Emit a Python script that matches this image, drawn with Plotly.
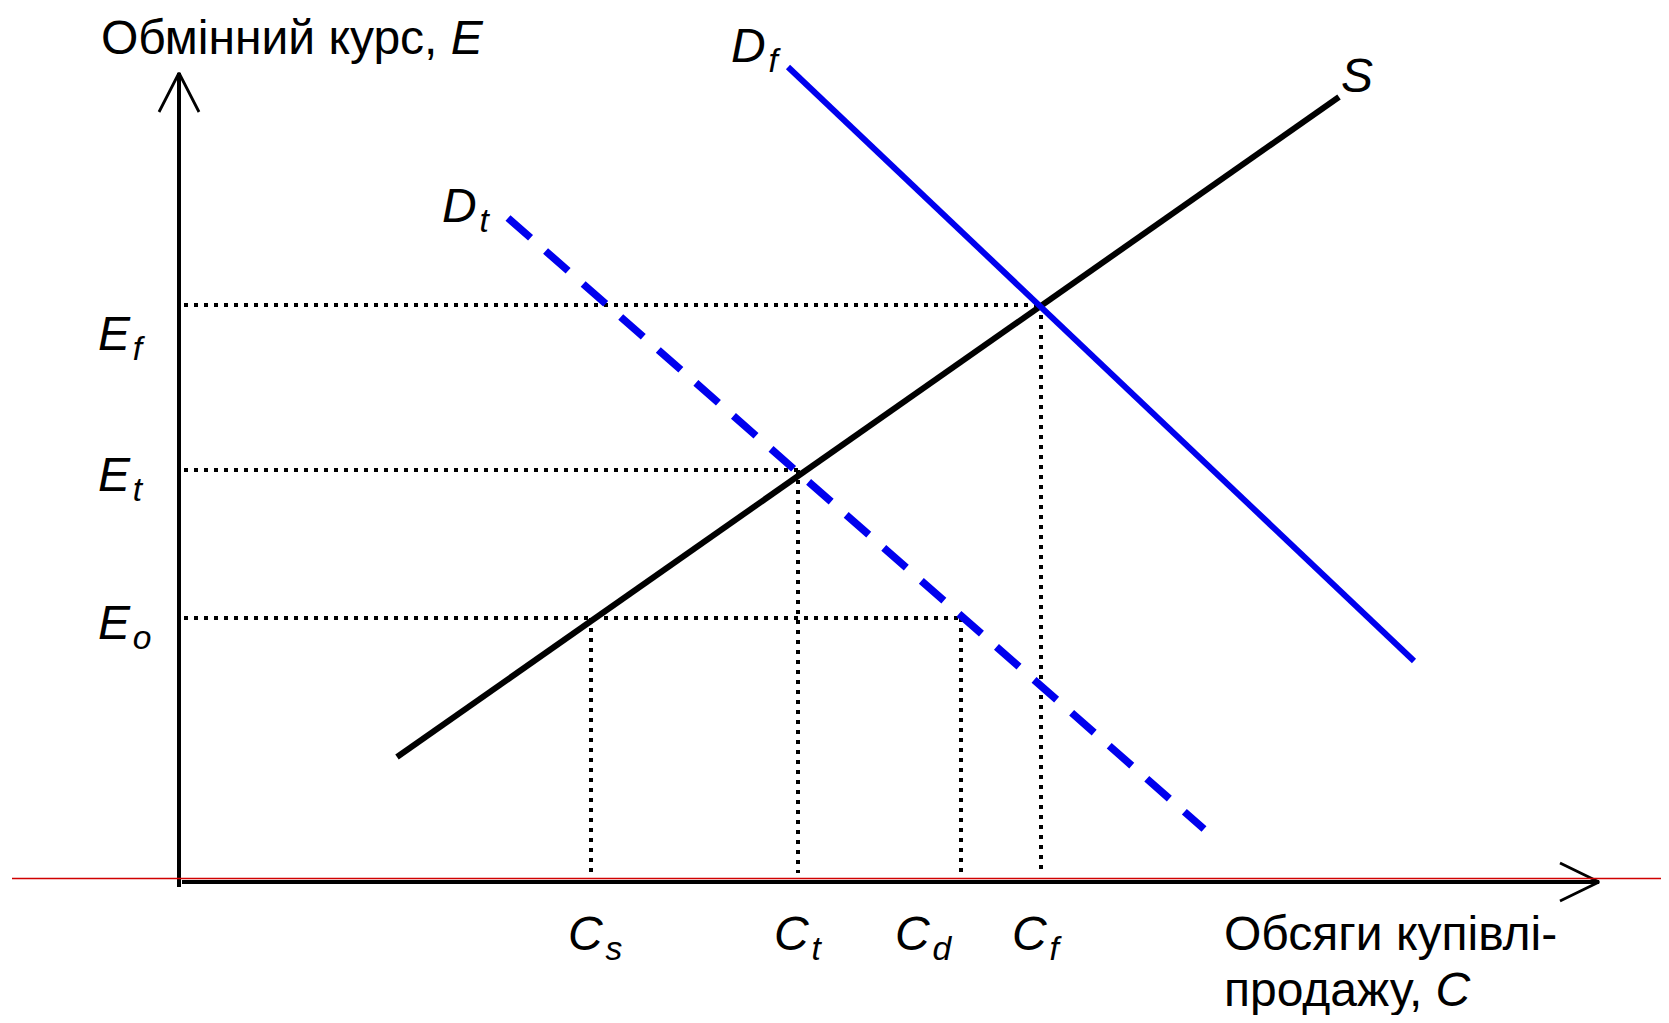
import plotly.graph_objects as go

# ---------------- data (chart units) ----------------
C_names = ["s", "t", "d", "f"]
C_values = [41.2, 61.9, 78.2, 86.2]          # Cs, Ct, Cd, Cf
E_names = ["f", "t", "o"]
E_values = [57.6, 41.1, 26.3]                # Ef, Et, Eo
E_end_C = [86.2, 61.9, 78.2]                 # where each E guide meets a curve
C_top_E = [26.3, 41.1, 26.3, 57.6]           # where each C guide starts

S_x = [21.8, 116.0]
S_y = [12.4, 78.4]
Df_x = [60.9, 123.5]
Df_y = [81.4, 22.0]
Dt_x = [32.9, 102.5]
Dt_y = [66.3, 5.2]

X_AXIS_END = 142.0
Y_AXIS_END = 80.8

FONT = "Liberation Sans, Arial, sans-serif"
FS = 48
BLUE = "#0000EE"

fig = go.Figure()

def line(x, y, color="black", width=2, dash="solid"):
    fig.add_trace(go.Scatter(x=x, y=y, mode="lines", hoverinfo="skip",
                             line=dict(color=color, width=width, dash=dash),
                             showlegend=False))

# dotted guide lines
for e, xe in zip(E_values, E_end_C):
    line([0.5, xe], [e, e], width=4, dash="4px,6px")
for c, ye in zip(C_values, C_top_E):
    line([c, c], [ye, 0.8], width=4, dash="4px,6px")

# axes
line([0, 0], [-0.6, Y_AXIS_END], width=4)
line([-2.0, 0, 2.0], [Y_AXIS_END - 3.9, Y_AXIS_END, Y_AXIS_END - 3.9], width=2.8)
line([0.3, X_AXIS_END], [-0.1, -0.1], width=4)
line([X_AXIS_END - 3.9, X_AXIS_END, X_AXIS_END - 3.9], [1.8, -0.1, -2.0], width=2.8)
# thin red reference line
line([-16.7, 160], [0.25, 0.25], color="#D00000", width=1.5)

# curves
line(S_x, S_y, color="black", width=6)
line(Df_x, Df_y, color=BLUE, width=6)
line(Dt_x, Dt_y, color=BLUE, width=7.5, dash="30px,20px")

ann = []
def text(x, y, t, xanchor="left", yanchor="middle", xshift=0, yshift=0):
    ann.append(dict(x=x, y=y, xref="x", yref="y", text=t, showarrow=False,
                    xanchor=xanchor, yanchor=yanchor, xshift=xshift, yshift=yshift,
                    font=dict(family=FONT, size=FS, color="black")))

def sym(base, sub):
    return f"<i>{base}</i><sub><i>\u200a{sub}</i></sub>"

text(-8.0, 84.4, "Обмінний курс, <i>E</i>")
text(Df_x[0], Df_y[0], sym("D", "f"), xanchor="right", xshift=-5, yshift=18)
text(S_x[1], S_y[1], "<i>S</i>", xanchor="left", xshift=0, yshift=22)
text(Dt_x[0], Dt_y[0], sym("D", "t"), xanchor="right", xshift=-16, yshift=9)

E_yshift = [-32, -8, -8]
for n, v, ys in zip(E_names, E_values, E_yshift):
    text(-8.3, v, sym("E", n), xanchor="left", yshift=ys)

C_xshift = [4, 0, -38, -4]
for n, v, xs in zip(C_names, C_values, C_xshift):
    text(v, 0, sym("C", n), xanchor="center", xshift=xs, yshift=-56)

text(104.3, -5.2, "Обсяги купівлі-")
text(104.3, -11.1, "продажу, <i>C</i>", yshift=3)

fig.update_layout(
    width=1653, height=1007,
    margin=dict(l=0, r=0, t=0, b=0),
    paper_bgcolor="white", plot_bgcolor="white",
    xaxis=dict(range=[-17.1, 148.2], visible=False, fixedrange=True),
    yaxis=dict(range=[-13.4, 87.3], visible=False, fixedrange=True),
    annotations=ann,
)

fig.write_html("out.html")
